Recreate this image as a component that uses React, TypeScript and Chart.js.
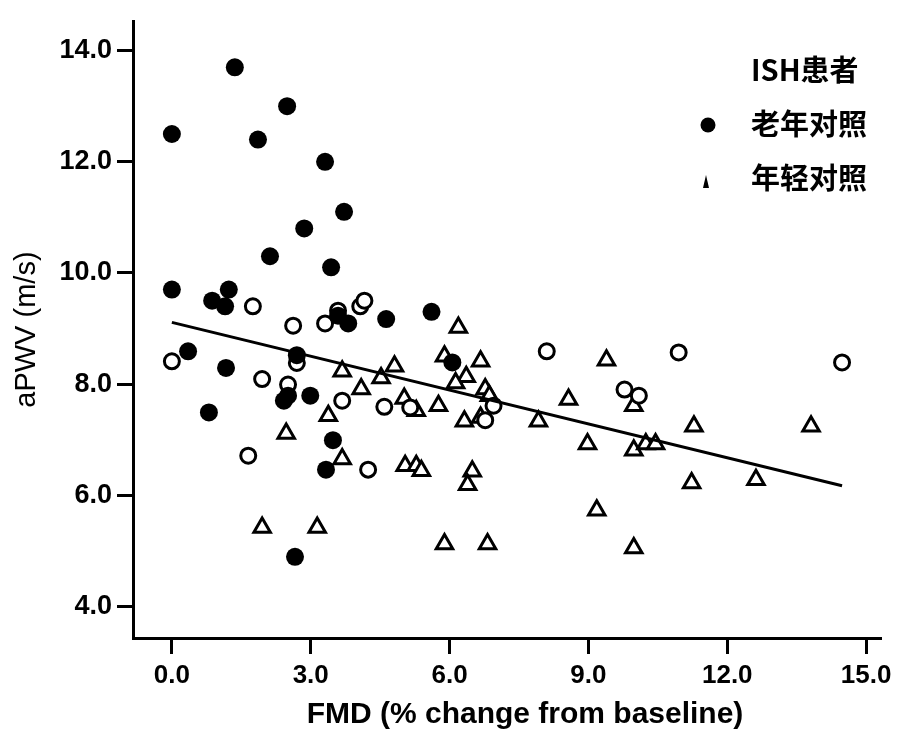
import React, { useEffect, useRef } from 'react';
import { Chart, registerables } from 'chart.js';

Chart.register(...registerables);

// ---------- data ----------
const xTickValues = [0, 3, 6, 9, 12, 15];
const yTickValues = [4, 6, 8, 10, 12, 14];

const xTitle = 'FMD (% change from baseline)';
const yTitle = 'aPWV (m/s)';
const legendLabels = ['ISH患者', '老年对照', '年轻对照'];

// 老年对照 (filled circles)
const elderX = [0.0, 1.36, 2.49, 1.86, 3.31, 3.72, 2.86, 2.12, 3.44, 0.0, 1.23, 0.87, 1.15, 3.59, 3.81, 4.63, 5.61, 0.35, 2.7, 1.17, 2.42, 2.51, 2.99, 0.8, 3.48, 3.33, 2.66, 6.06];
const elderY = [12.5, 13.7, 13.0, 12.4, 12.0, 11.1, 10.8, 10.3, 10.1, 9.7, 9.7, 9.5, 9.4, 9.23, 9.09, 9.17, 9.3, 8.59, 8.52, 8.29, 7.7, 7.79, 7.79, 7.49, 6.99, 6.46, 4.89, 8.39];

// ISH患者 (open circles)
const ishX = [1.75, 2.62, 3.31, 3.59, 4.07, 4.16, 0.0, 2.7, 1.95, 2.51, 3.68, 4.59, 5.15, 1.65, 4.24, 8.1, 10.95, 14.48, 9.78, 10.09, 6.95, 6.77];
const ishY = [9.4, 9.05, 9.09, 9.32, 9.4, 9.5, 8.41, 8.38, 8.09, 7.99, 7.7, 7.59, 7.58, 6.71, 6.46, 8.59, 8.57, 8.39, 7.9, 7.79, 7.61, 7.35];

// 年轻对照 (open triangles)
const youngX = [3.68, 4.81, 4.52, 4.09, 3.38, 5.02, 5.28, 2.47, 3.68, 5.04, 5.28, 5.39, 1.95, 3.14, 6.19, 5.89, 6.67, 6.36, 6.13, 6.77, 6.86, 5.76, 6.32, 6.67, 7.92, 8.57, 9.39, 9.98, 8.98, 9.98, 10.24, 10.45, 11.28, 13.81, 11.23, 12.62, 6.49, 6.39, 9.18, 5.89, 6.82, 9.98];
const youngY = [8.23, 8.32, 8.11, 7.91, 7.43, 7.74, 7.52, 7.11, 6.65, 6.53, 6.53, 6.44, 5.42, 5.42, 9.02, 8.5, 8.41, 8.13, 8.02, 7.91, 7.79, 7.61, 7.33, 7.4, 7.33, 7.72, 8.43, 7.61, 6.92, 6.81, 6.92, 6.92, 7.24, 7.24, 6.22, 6.28, 6.43, 6.19, 5.73, 5.12, 5.12, 5.05];

// regression line
const fitX = [0, 14.48];
const fitY = [9.11, 6.17];

const toPts = (xs: number[], ys: number[]) => xs.map((x, i) => ({ x, y: ys[i] }));

const legendPlugin = {
  id: 'customLegend',
  afterDraw(chart: any) {
    const ctx = chart.ctx as CanvasRenderingContext2D;
    ctx.save();
    ctx.fillStyle = '#000';
    // x-axis title (slightly right of the axis centre, as in the original)
    ctx.font = 'bold 30px "Liberation Sans"';
    ctx.textAlign = 'center';
    ctx.textBaseline = 'middle';
    ctx.fillText(xTitle, 525, 715);
    // legend
    ctx.font = 'bold 29px "Noto Sans CJK SC"';
    ctx.textBaseline = 'middle';
    ctx.textAlign = 'left';
    const x0 = 751;
    const y0 = 70;
    const step = 54;
    legendLabels.forEach((t, i) => ctx.fillText(t, x0, y0 + i * step));
    // filled circle marker
    ctx.beginPath();
    ctx.arc(708, y0 + step + 1, 7.5, 0, Math.PI * 2);
    ctx.fill();
    // small triangle marker
    const ty = y0 + 2 * step + 4;
    ctx.beginPath();
    ctx.moveTo(706, ty - 7);
    ctx.lineTo(709, ty + 6);
    ctx.lineTo(703, ty + 6);
    ctx.closePath();
    ctx.fill();
    ctx.restore();
  },
};

export default function App() {
  const ref = useRef<HTMLCanvasElement | null>(null);

  useEffect(() => {
    if (!ref.current) return;
    const chart = new Chart(ref.current, {
      type: 'scatter',
      data: {
        datasets: [
          {
            type: 'line',
            label: 'fit',
            data: toPts(fitX, fitY),
            borderColor: '#000',
            borderWidth: 3,
            pointRadius: 0,
            fill: false,
          } as any,
          {
            label: legendLabels[1],
            data: toPts(elderX, elderY),
            pointStyle: 'circle',
            pointRadius: 9,
            backgroundColor: '#000',
            borderColor: '#000',
            borderWidth: 0,
          },
          {
            label: legendLabels[0],
            data: toPts(ishX, ishY),
            pointStyle: 'circle',
            pointRadius: 7.5,
            backgroundColor: '#fff',
            borderColor: '#000',
            borderWidth: 3,
          },
          {
            label: legendLabels[2],
            data: toPts(youngX, youngY),
            pointStyle: 'triangle',
            pointRadius: 9.5,
            backgroundColor: '#fff',
            borderColor: '#000',
            borderWidth: 3,
          },
        ],
      },
      options: {
        responsive: false,
        animation: false,
        layout: { padding: { top: 13, right: 21, left: 0, bottom: 0 } },
        plugins: {
          legend: { display: false },
          tooltip: { enabled: false },
        },
        scales: {
          x: {
            type: 'linear',
            min: -0.84,
            max: 15.3,
            afterFit: (s: any) => { s.height = 93; },
            afterBuildTicks: (s: any) => { s.ticks = xTickValues.map((v) => ({ value: v })); },
            border: { display: true, color: '#000', width: 3 },
            grid: { drawOnChartArea: false, drawTicks: true, tickLength: 16, color: '#000', lineWidth: 3 },
            ticks: {
              color: '#000',
              padding: 6,
              font: { family: 'Liberation Sans', weight: 'bold', size: 26 },
              callback: (v: any) => Number(v).toFixed(1),
            },
            title: { display: false },
          },
          y: {
            type: 'linear',
            min: 3.43,
            max: 14.53,
            afterFit: (s: any) => { s.width = 133; },
            afterBuildTicks: (s: any) => { s.ticks = yTickValues.map((v) => ({ value: v })); },
            border: { display: true, color: '#000', width: 3 },
            grid: { drawOnChartArea: false, drawTicks: true, tickLength: 16, color: '#000', lineWidth: 3 },
            ticks: {
              color: '#000',
              padding: 5,
              font: { family: 'Liberation Sans', weight: 'bold', size: 27 },
              callback: (v: any) => Number(v).toFixed(1),
            },
            title: {
              display: true,
              text: yTitle,
              color: '#000',
              font: { family: 'Liberation Sans', weight: 'normal', size: 29 },
              padding: { top: 10, bottom: 0 },
            },
          },
        },
      },
      plugins: [legendPlugin],
    });
    return () => chart.destroy();
  }, []);

  return (
    <div style={{ position: 'absolute', left: 0, top: 0, width: 901, height: 731, background: '#fff' }}>
      <canvas ref={ref} width={901} height={731} style={{ display: 'block' }} />
    </div>
  );
}
